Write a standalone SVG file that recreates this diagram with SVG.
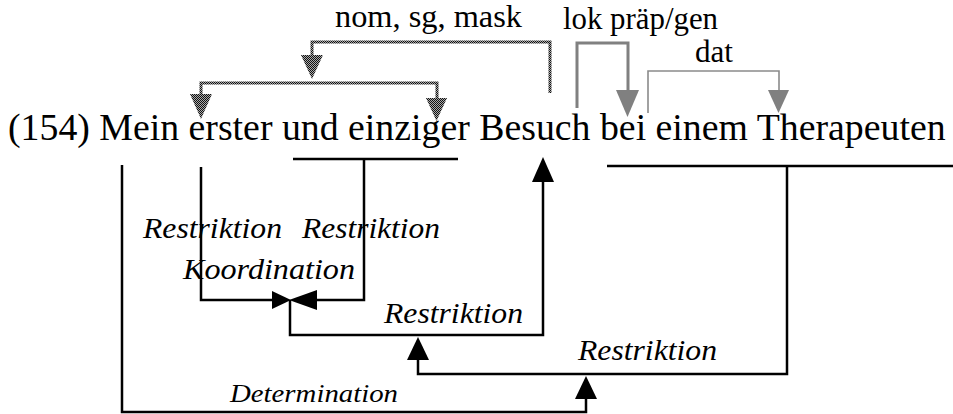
<svg xmlns="http://www.w3.org/2000/svg" width="953" height="414" viewBox="0 0 953 414">
<defs>
<pattern id="chk" width="2" height="2" patternUnits="userSpaceOnUse">
<rect width="2" height="2" fill="#aaaaaa"/>
<rect width="1" height="1" fill="#111111"/>
<rect x="1" y="1" width="1" height="1" fill="#111111"/>
</pattern>
</defs>
<style>
.main{font-family:"Liberation Serif","Times New Roman",serif;font-size:37.8px;fill:#000}
.top{font-family:"Liberation Serif","Times New Roman",serif;font-size:31px;fill:#000}
.rel{font-family:"Liberation Serif","Times New Roman",serif;font-style:italic;font-size:29px;fill:#000}
.blk{fill:none;stroke:#000;stroke-width:2.5}
.dot{fill:none;stroke:url(#chk);stroke-width:3}
.gthick{fill:none;stroke:#808080;stroke-width:3}
.gthin{fill:none;stroke:#8a8a8a;stroke-width:1.6}
.ahb{fill:#000}
.ahg{fill:#808080}
.ahd{fill:url(#chk)}
</style>
<rect width="953" height="414" fill="#fff"/>

<g id="sentence">
<text class="main" x="8" y="140">(154) Mein erster und einziger Besuch bei einem Therapeuten</text>
</g>

<g id="connectors">
<path class="dot" d="M550,93 V42 H312 V56"/>
<path class="dot" d="M201,95 V83 H437 V99"/>
<polygon class="ahd" points="301,55 323,55 312,79"/>
<polygon class="ahd" points="190,94 212,94 201,119"/>
<polygon class="ahd" points="426,98 447,98 436.5,121"/>
<path class="gthick" d="M577,108 V43 H628 V91"/>
<polygon class="ahg" points="616,90 639,90 627.5,117"/>
<path class="gthin" d="M648,113 V71 H779 V91"/>
<polygon class="ahg" points="768,90 789,90 778.5,113"/>
<path class="blk" d="M201,167 V300 H273"/>
<path class="blk" d="M308,300 H364 V159"/>
<path class="blk" d="M293,159 H458"/>
<polygon class="ahb" points="272,291 272,309 291,300"/>
<polygon class="ahb" points="317,290 317,310 289,300"/>
<path class="blk" d="M290,300 V335 H543 V180"/>
<polygon class="ahb" points="532,182 554,182 543,157"/>
<path class="blk" d="M607,166 H953"/>
<path class="blk" d="M787,166 V374 H418 V358"/>
<polygon class="ahb" points="407,360 429,360 418,337"/>
<path class="blk" d="M122,165 V412 H586 V397"/>
<polygon class="ahb" points="575,399 597,399 586,376"/>
</g>

<g id="labels">
<text class="top" x="335" y="27" textLength="187" lengthAdjust="spacingAndGlyphs">nom, sg, mask</text>
<text class="top" x="563" y="29" textLength="155" lengthAdjust="spacingAndGlyphs">lok präp/gen</text>
<text class="top" x="695" y="62" textLength="38" lengthAdjust="spacingAndGlyphs">dat</text>
<text class="rel" x="143" y="238" textLength="139" lengthAdjust="spacingAndGlyphs">Restriktion</text>
<text class="rel" x="302" y="238" textLength="138" lengthAdjust="spacingAndGlyphs">Restriktion</text>
<text class="rel" x="183" y="279" textLength="172" lengthAdjust="spacingAndGlyphs">Koordination</text>
<text class="rel" x="384" y="323" textLength="139" lengthAdjust="spacingAndGlyphs">Restriktion</text>
<text class="rel" x="578" y="360" textLength="139" lengthAdjust="spacingAndGlyphs">Restriktion</text>
<text class="rel" x="230" y="402" style="font-size:26px" textLength="168" lengthAdjust="spacingAndGlyphs">Determination</text>
</g>
</svg>
